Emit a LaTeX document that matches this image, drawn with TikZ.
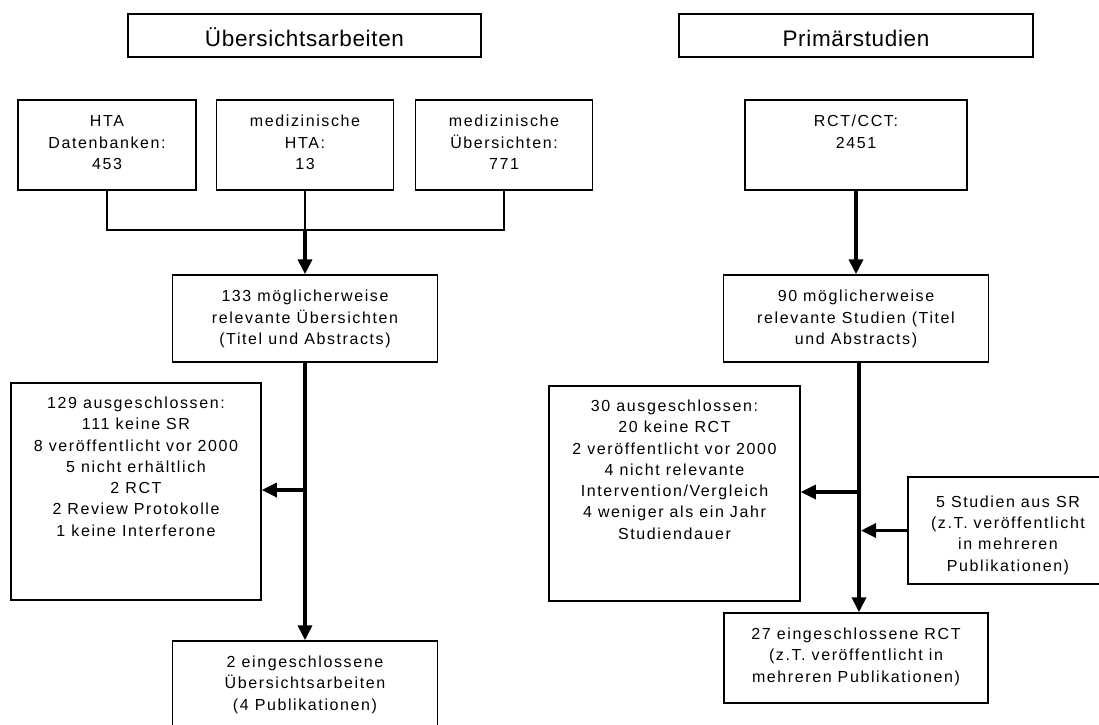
\documentclass[tikz,border=0pt]{standalone}
\usepackage{fontspec}
\setmainfont{Liberation Sans}[LetterSpace=10]
\newfontfamily\hdfont{Liberation Sans}[LetterSpace=3]
\usetikzlibrary{arrows.meta}
\begin{document}
\begin{tikzpicture}[x=1pt,y=-1pt,
  box/.style={draw=black,line width=1.5pt,inner sep=0pt,fill=none},
  txt/.style={inner sep=0pt,align=center,anchor=north,font=\fontsize{16}{21.3}\selectfont},
  hdtxt/.style={inner sep=0pt,anchor=base,font=\hdfont\fontsize{22.5}{26}\selectfont},
  thinline/.style={line width=1.8pt},
  flow/.style={line width=3.8pt,-{Triangle[length=15pt,width=14pt]}},
  side/.style={line width=3.3pt,-{Triangle[length=15pt,width=14pt]}}]
\useasboundingbox (0,0) rectangle (1099,724);
\fill[white] (0,0) rectangle (1099,724);
% headers
\node[box,minimum width=353pt,minimum height=43pt] (h1) at (304.5,35.5) {};
\node[hdtxt] (h1t) at (304.5,46) {Übersichtsarbeiten};
\node[box,minimum width=354pt,minimum height=43pt] (h2) at (856,35.5) {};
\node[hdtxt] (h2t) at (856,46) {Primärstudien};
% sources
\node[box,minimum width=178pt,minimum height=90pt] (hta) at (107,145) {};
\node[txt] (htat) at ([yshift=-10.5pt]hta.north) {\rule{0pt}{17pt}HTA\\Datenbanken:\\453};
\node[box,minimum width=177pt,minimum height=90pt] (mhta) at (305,145) {};
\node[txt] (mhtat) at ([yshift=-10.5pt]mhta.north) {\rule{0pt}{17pt}medizinische\\HTA:\\13};
\node[box,minimum width=177pt,minimum height=90pt] (mueb) at (504,145) {};
\node[txt] (muebt) at ([yshift=-10.5pt]mueb.north) {\rule{0pt}{17pt}medizinische\\Übersichten:\\771};
\node[box,minimum width=222pt,minimum height=90pt] (rct) at (856,145) {};
\node[txt] (rctt) at ([yshift=-10.5pt]rct.north) {\rule{0pt}{17pt}RCT/CCT:\\2451};
% screening
\node[box,minimum width=265pt,minimum height=87pt] (b133) at (305,318.5) {};
\node[txt] (b133t) at ([yshift=-10.5pt]b133.north) {\rule{0pt}{17pt}133 möglicherweise\\relevante Übersichten\\(Titel und Abstracts)};
\node[box,minimum width=265pt,minimum height=87pt] (b90) at (856,318.5) {};
\node[txt] (b90t) at ([yshift=-10.5pt]b90.north) {\rule{0pt}{17pt}90 möglicherweise\\relevante Studien (Titel\\und Abstracts)};
% exclusions
\node[box,minimum width=250pt,minimum height=217pt] (b129) at (136,491.5) {};
\node[txt] (b129t) at ([yshift=-9pt]b129.north) {\rule{0pt}{17pt}129 ausgeschlossen:\\111 keine SR\\8 veröffentlicht vor 2000\\5 nicht erhältlich\\2 RCT\\2 Review Protokolle\\1 keine Interferone};
\node[box,minimum width=251pt,minimum height=215pt] (b30) at (674.5,493.5) {};
\node[txt] (b30t) at ([yshift=-9pt]b30.north) {\rule{0pt}{17pt}30 ausgeschlossen:\\20 keine RCT\\2 veröffentlicht vor 2000\\4 nicht relevante\\Intervention/Vergleich\\4 weniger als ein Jahr\\Studiendauer};
\node[box,minimum width=202pt,minimum height=107pt] (b5) at (1009,530.5) {};
\node[txt] (b5t) at ([yshift=-13pt]1008,477) {\rule{0pt}{17pt}5 Studien aus SR\\(z.T. veröffentlicht\\in mehreren\\Publikationen)};
% included
\node[box,minimum width=264pt,minimum height=90pt] (b27) at (856,658) {};
\node[txt] (b27t) at ([yshift=-10pt]b27.north) {\rule{0pt}{17pt}27 eingeschlossene RCT\\(z.T. veröffentlicht in\\mehreren Publikationen)};
\node[box,minimum width=265pt,minimum height=90pt] (b2) at (305,686) {};
\node[txt] (b2t) at ([yshift=-10pt]b2.north) {\rule{0pt}{17pt}2 eingeschlossene\\Übersichtsarbeiten\\(4 Publikationen)};
% connectors left
\coordinate (j) at (305,230);
\draw[thinline] (hta.south) -- (hta.south |- j) -- (mueb.south |- j) -- (mueb.south);
\draw[thinline] (mhta.south) -- (j);
\draw[flow] (j) -- (b133.north);
\draw[flow] (b133.south) -- (b2.north);
\coordinate (l1) at (305,490);
\draw[side] (l1) -- (l1 -| b129.east);
% connectors right
\draw[flow] (rct.south) -- (b90.north);
\draw[flow] ([xshift=3pt]b90.south) -- ([xshift=3pt]b27.north);
\coordinate (r1) at (859,492);
\draw[side] (r1) -- (r1 -| b30.east);
\coordinate (r2) at (861,530.5);
\draw[side] (b5.west) -- (r2);
\end{tikzpicture}
\end{document}
